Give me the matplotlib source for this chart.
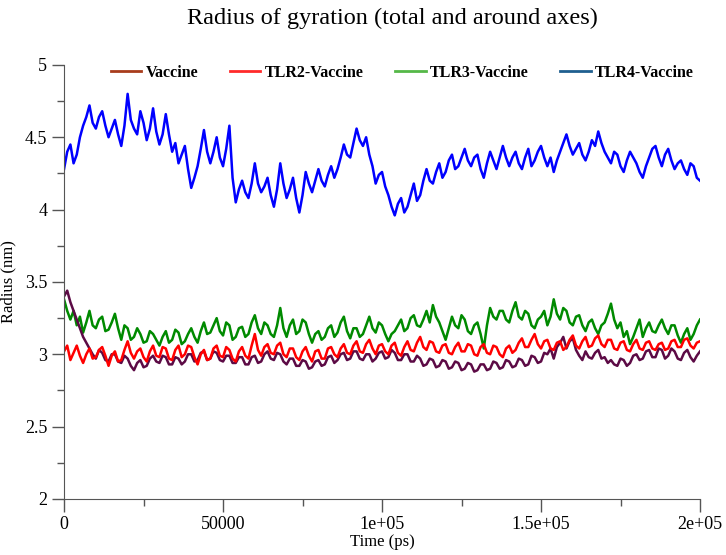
import matplotlib
matplotlib.use("Agg")
import matplotlib.pyplot as plt
from matplotlib.lines import Line2D
from matplotlib.ticker import MultipleLocator, FixedLocator
import numpy as np

plt.rcParams['font.family'] = ['Liberation Serif', 'DejaVu Serif']

# Rg values, one every ~1000 ps from 0 to 2e5 ps
vaccine = [3.40, 3.44, 3.36, 3.30, 3.24, 3.18, 3.12, 3.08, 3.04, 3.00,
           2.97, 3.03, 3.01, 2.96, 2.95, 3.00, 3.00, 2.95, 2.94, 2.99,
           2.97, 2.92, 2.89, 2.94, 2.96, 2.91, 2.92, 2.97, 2.99, 2.95,
           2.94, 2.99, 2.98, 2.93, 2.93, 2.98, 2.97, 2.93, 2.95, 3.00,
           3.00, 2.95, 2.96, 3.01, 3.02, 2.96, 2.97, 3.02, 3.01, 2.96,
           2.95, 2.99, 2.99, 2.94, 2.94, 2.98, 2.98, 2.93, 2.93, 2.98,
           2.99, 2.94, 2.95, 3.00, 3.02, 2.97, 2.96, 3.01, 3.00, 2.95,
           2.93, 2.97, 2.97, 2.92, 2.92, 2.96, 2.95, 2.90, 2.91, 2.95,
           2.96, 2.92, 2.93, 2.98, 2.99, 2.94, 2.96, 3.00, 3.01, 2.96,
           2.97, 3.02, 3.02, 2.97, 2.96, 3.00, 3.00, 2.95, 2.97, 3.01,
           3.02, 2.97, 2.98, 3.03, 3.01, 2.96, 2.96, 3.00, 3.00, 2.95,
           2.95, 2.99, 2.97, 2.92, 2.93, 2.97, 2.96, 2.91, 2.92, 2.96,
           2.95, 2.90, 2.91, 2.95, 2.94, 2.89, 2.90, 2.94, 2.93, 2.88,
           2.89, 2.93, 2.93, 2.89, 2.90, 2.95, 2.94, 2.90, 2.91, 2.96,
           2.95, 2.91, 2.92, 2.97, 2.96, 2.92, 2.93, 2.99, 2.98, 2.94,
           2.95, 3.01, 3.00, 3.04, 2.97, 3.05, 3.08, 3.12, 3.04, 3.09,
           3.11, 3.03, 2.99, 2.96, 3.02, 2.98, 2.97, 3.01, 3.03, 2.97,
           2.98, 2.94, 2.96, 2.93, 2.92, 2.97, 2.96, 2.92, 2.94, 2.99,
           3.00, 2.96, 2.97, 3.02, 3.03, 2.98, 2.98, 3.04, 3.03, 2.97,
           2.99, 3.04, 3.02, 2.97, 2.96, 3.01, 3.03, 2.98, 2.95, 2.99,
           3.02]

tlr2 = [3.02, 3.06, 2.96, 3.01, 3.06, 2.99, 2.94, 3.00, 3.04, 2.97,
        2.98, 3.03, 3.05, 2.99, 2.92, 2.99, 3.02, 2.95, 2.96, 3.03,
        3.09, 3.01, 2.97, 3.02, 3.04, 2.98, 2.95, 3.02, 3.06, 2.99,
        2.98, 3.05, 3.04, 2.97, 2.96, 3.03, 3.06, 2.98, 3.00, 3.06,
        3.05, 2.98, 2.93, 3.00, 3.03, 2.96, 2.97, 3.04, 3.06, 2.99,
        2.98, 3.05, 3.03, 2.97, 2.95, 3.02, 3.05, 2.99, 2.97, 3.06,
        3.14, 3.03, 2.99, 3.05, 3.07, 3.01, 3.00, 3.06, 3.08, 3.00,
        2.98, 3.04, 3.04, 2.98, 2.96, 3.02, 3.05, 2.99, 2.95, 3.02,
        3.03, 2.97, 2.97, 3.04, 3.05, 3.00, 2.98, 3.04, 3.07, 3.01,
        3.00, 3.06, 3.09, 3.02, 3.01, 3.07, 3.10, 3.04, 3.00, 3.06,
        3.07, 3.02, 3.00, 3.06, 3.08, 3.01, 2.99, 3.05, 3.09, 3.03,
        3.02, 3.08, 3.12, 3.05, 3.03, 3.09, 3.08, 3.02, 3.01, 3.06,
        3.07, 3.01, 3.00, 3.05, 3.08, 3.02, 3.02, 3.07, 3.06, 3.00,
        2.99, 3.05, 3.07, 3.01, 3.00, 3.06, 3.05, 3.00, 2.98, 3.04,
        3.06, 3.01, 3.03, 3.08, 3.11, 3.05, 3.05, 3.10, 3.14, 3.07,
        3.04, 3.09, 3.10, 3.04, 3.03, 3.08, 3.09, 3.03, 3.05, 3.10,
        3.13, 3.06, 3.04, 3.09, 3.12, 3.05, 3.06, 3.11, 3.13, 3.07,
        3.05, 3.10, 3.10, 3.04, 3.03, 3.08, 3.09, 3.03, 3.02, 3.07,
        3.10, 3.04, 3.03, 3.08, 3.09, 3.04, 3.03, 3.07, 3.08, 3.03,
        3.04, 3.09, 3.10, 3.05, 3.05, 3.10, 3.11, 3.06, 3.04, 3.08,
        3.09]

tlr3 = [3.38, 3.30, 3.24, 3.30, 3.20, 3.26, 3.15, 3.22, 3.30, 3.20,
        3.18, 3.24, 3.26, 3.16, 3.17, 3.22, 3.28, 3.18, 3.10, 3.20,
        3.18, 3.10, 3.12, 3.18, 3.14, 3.08, 3.09, 3.16, 3.14, 3.10,
        3.06, 3.12, 3.16, 3.08, 3.10, 3.17, 3.15, 3.07, 3.09, 3.14,
        3.18, 3.12, 3.08, 3.16, 3.22, 3.14, 3.15, 3.20, 3.25, 3.16,
        3.13, 3.22, 3.20, 3.10, 3.12, 3.18, 3.19, 3.12, 3.14, 3.22,
        3.27, 3.18, 3.14, 3.22, 3.20, 3.14, 3.12, 3.20, 3.32, 3.18,
        3.12, 3.20, 3.24, 3.14, 3.16, 3.24, 3.22, 3.14, 3.08, 3.14,
        3.16, 3.10, 3.12, 3.18, 3.20, 3.12, 3.15, 3.22, 3.26, 3.16,
        3.11, 3.18, 3.18, 3.12, 3.14, 3.20, 3.26, 3.18, 3.15, 3.22,
        3.20, 3.14, 3.09, 3.14, 3.16, 3.20, 3.24, 3.16, 3.18, 3.25,
        3.27, 3.20, 3.19, 3.24, 3.30, 3.22, 3.34, 3.26, 3.22, 3.16,
        3.10, 3.18, 3.26, 3.20, 3.18, 3.27, 3.24, 3.16, 3.14, 3.20,
        3.22, 3.14, 3.04, 3.20, 3.32, 3.26, 3.24, 3.30, 3.30, 3.24,
        3.22, 3.30, 3.36, 3.26, 3.24, 3.30, 3.28, 3.20, 3.18, 3.24,
        3.26, 3.30, 3.20, 3.26, 3.38, 3.28, 3.24, 3.32, 3.30, 3.22,
        3.20, 3.26, 3.27, 3.20, 3.16, 3.22, 3.24, 3.18, 3.14, 3.20,
        3.22, 3.28, 3.35, 3.24, 3.18, 3.22, 3.12, 3.16, 3.07, 3.12,
        3.18, 3.24, 3.12, 3.18, 3.22, 3.16, 3.15, 3.20, 3.24, 3.18,
        3.14, 3.20, 3.20, 3.13, 3.08, 3.14, 3.18, 3.10, 3.14, 3.20,
        3.24]

tlr4 = [4.28, 4.40, 4.45, 4.32, 4.38, 4.50, 4.58, 4.64, 4.72, 4.60,
        4.56, 4.64, 4.68, 4.58, 4.50, 4.56, 4.62, 4.52, 4.44, 4.58,
        4.80, 4.62, 4.56, 4.52, 4.68, 4.60, 4.48, 4.56, 4.70, 4.54,
        4.45, 4.52, 4.66, 4.52, 4.40, 4.46, 4.32, 4.38, 4.44, 4.28,
        4.15, 4.22, 4.30, 4.42, 4.55, 4.40, 4.32, 4.40, 4.50, 4.36,
        4.30, 4.42, 4.58, 4.22, 4.05, 4.14, 4.20, 4.12, 4.08, 4.18,
        4.32, 4.18, 4.12, 4.16, 4.22, 4.10, 4.02, 4.14, 4.32, 4.18,
        4.08, 4.14, 4.22, 4.08, 3.98, 4.10, 4.26, 4.18, 4.12, 4.20,
        4.28, 4.20, 4.16, 4.24, 4.30, 4.22, 4.28, 4.36, 4.45, 4.38,
        4.36, 4.46, 4.56, 4.48, 4.44, 4.50, 4.38, 4.30, 4.18, 4.24,
        4.26, 4.16, 4.10, 4.02, 3.96, 4.04, 4.08, 3.98, 4.02, 4.10,
        4.18, 4.06, 4.10, 4.20, 4.28, 4.20, 4.18, 4.26, 4.32, 4.22,
        4.26, 4.34, 4.38, 4.28, 4.30, 4.36, 4.42, 4.34, 4.30, 4.36,
        4.38, 4.28, 4.22, 4.32, 4.40, 4.34, 4.28, 4.36, 4.44, 4.36,
        4.30, 4.36, 4.40, 4.32, 4.28, 4.36, 4.42, 4.30, 4.34, 4.40,
        4.44, 4.36, 4.30, 4.36, 4.26, 4.34, 4.40, 4.46, 4.52, 4.44,
        4.38, 4.42, 4.46, 4.38, 4.34, 4.40, 4.48, 4.44, 4.54, 4.46,
        4.40, 4.36, 4.32, 4.40, 4.38, 4.30, 4.26, 4.34, 4.40, 4.36,
        4.32, 4.26, 4.22, 4.30, 4.36, 4.42, 4.44, 4.36, 4.30, 4.38,
        4.42, 4.34, 4.28, 4.32, 4.34, 4.28, 4.24, 4.32, 4.30, 4.22,
        4.20]

legend_labels = ['Vaccine', 'TLR2-Vaccine', 'TLR3-Vaccine', 'TLR4-Vaccine']
legend_colors = ['#a83c1c', '#ff2a2a', '#55b848', '#1f5f8f']

fig = plt.figure(figsize=(7.26, 5.55), dpi=100)
ax = fig.add_axes([0.0882, 0.101, 0.876, 0.782])

def t_of(series):
    return np.linspace(0, 200000, len(series))

ax.plot(t_of(tlr3), tlr3, color='#008a00', lw=1.8)
ax.plot(t_of(vaccine), vaccine, color='#5c0a45', lw=1.8)
ax.plot(t_of(tlr2), tlr2, color='#ff0000', lw=1.8)
ax.plot(t_of(tlr4), tlr4, color='#0000ff', lw=1.8)

ax.set_xlim(0, 200000)
ax.set_ylim(2, 5)

ax.spines['top'].set_visible(False)
ax.spines['right'].set_visible(False)
ax.spines['left'].set_color('#555555')
ax.spines['bottom'].set_color('#555555')

ax.xaxis.set_major_locator(FixedLocator([0, 50000, 100000, 150000, 200000]))
ax.set_xticklabels(['0', '50000', '1e+05', '1.5e+05', '2e+05'])
ax.xaxis.set_minor_locator(MultipleLocator(25000))
ax.yaxis.set_major_locator(MultipleLocator(0.5))
ax.yaxis.set_minor_locator(MultipleLocator(0.25))
ax.yaxis.set_major_formatter(plt.FuncFormatter(lambda v, p: '%g' % v))

ax.tick_params(which='major', direction='out', length=9, width=1, color='#555555', labelsize=13, pad=3)
ax.tick_params(which='minor', direction='out', length=5, width=1, color='#555555')

ax.set_xlabel('Time (ps)', fontsize=12, labelpad=1)
ax.set_ylabel('Radius (nm)', fontsize=12, labelpad=6)
fig.text(0.54, 0.967, 'Radius of gyration (total and around axes)', fontsize=17.5,
         ha='center', va='center')

handles = [Line2D([0], [0], color=c, lw=2) for c in legend_colors]
ax.legend(handles, legend_labels, ncol=4, frameon=False, loc='center left',
          bbox_to_anchor=(0.074, 0.982), borderpad=0, borderaxespad=0,
          handlelength=1.9, handletextpad=0.25, columnspacing=2.0,
          prop={'weight': 'bold', 'size': 11.5})

fig.savefig('out.png', dpi=100)
